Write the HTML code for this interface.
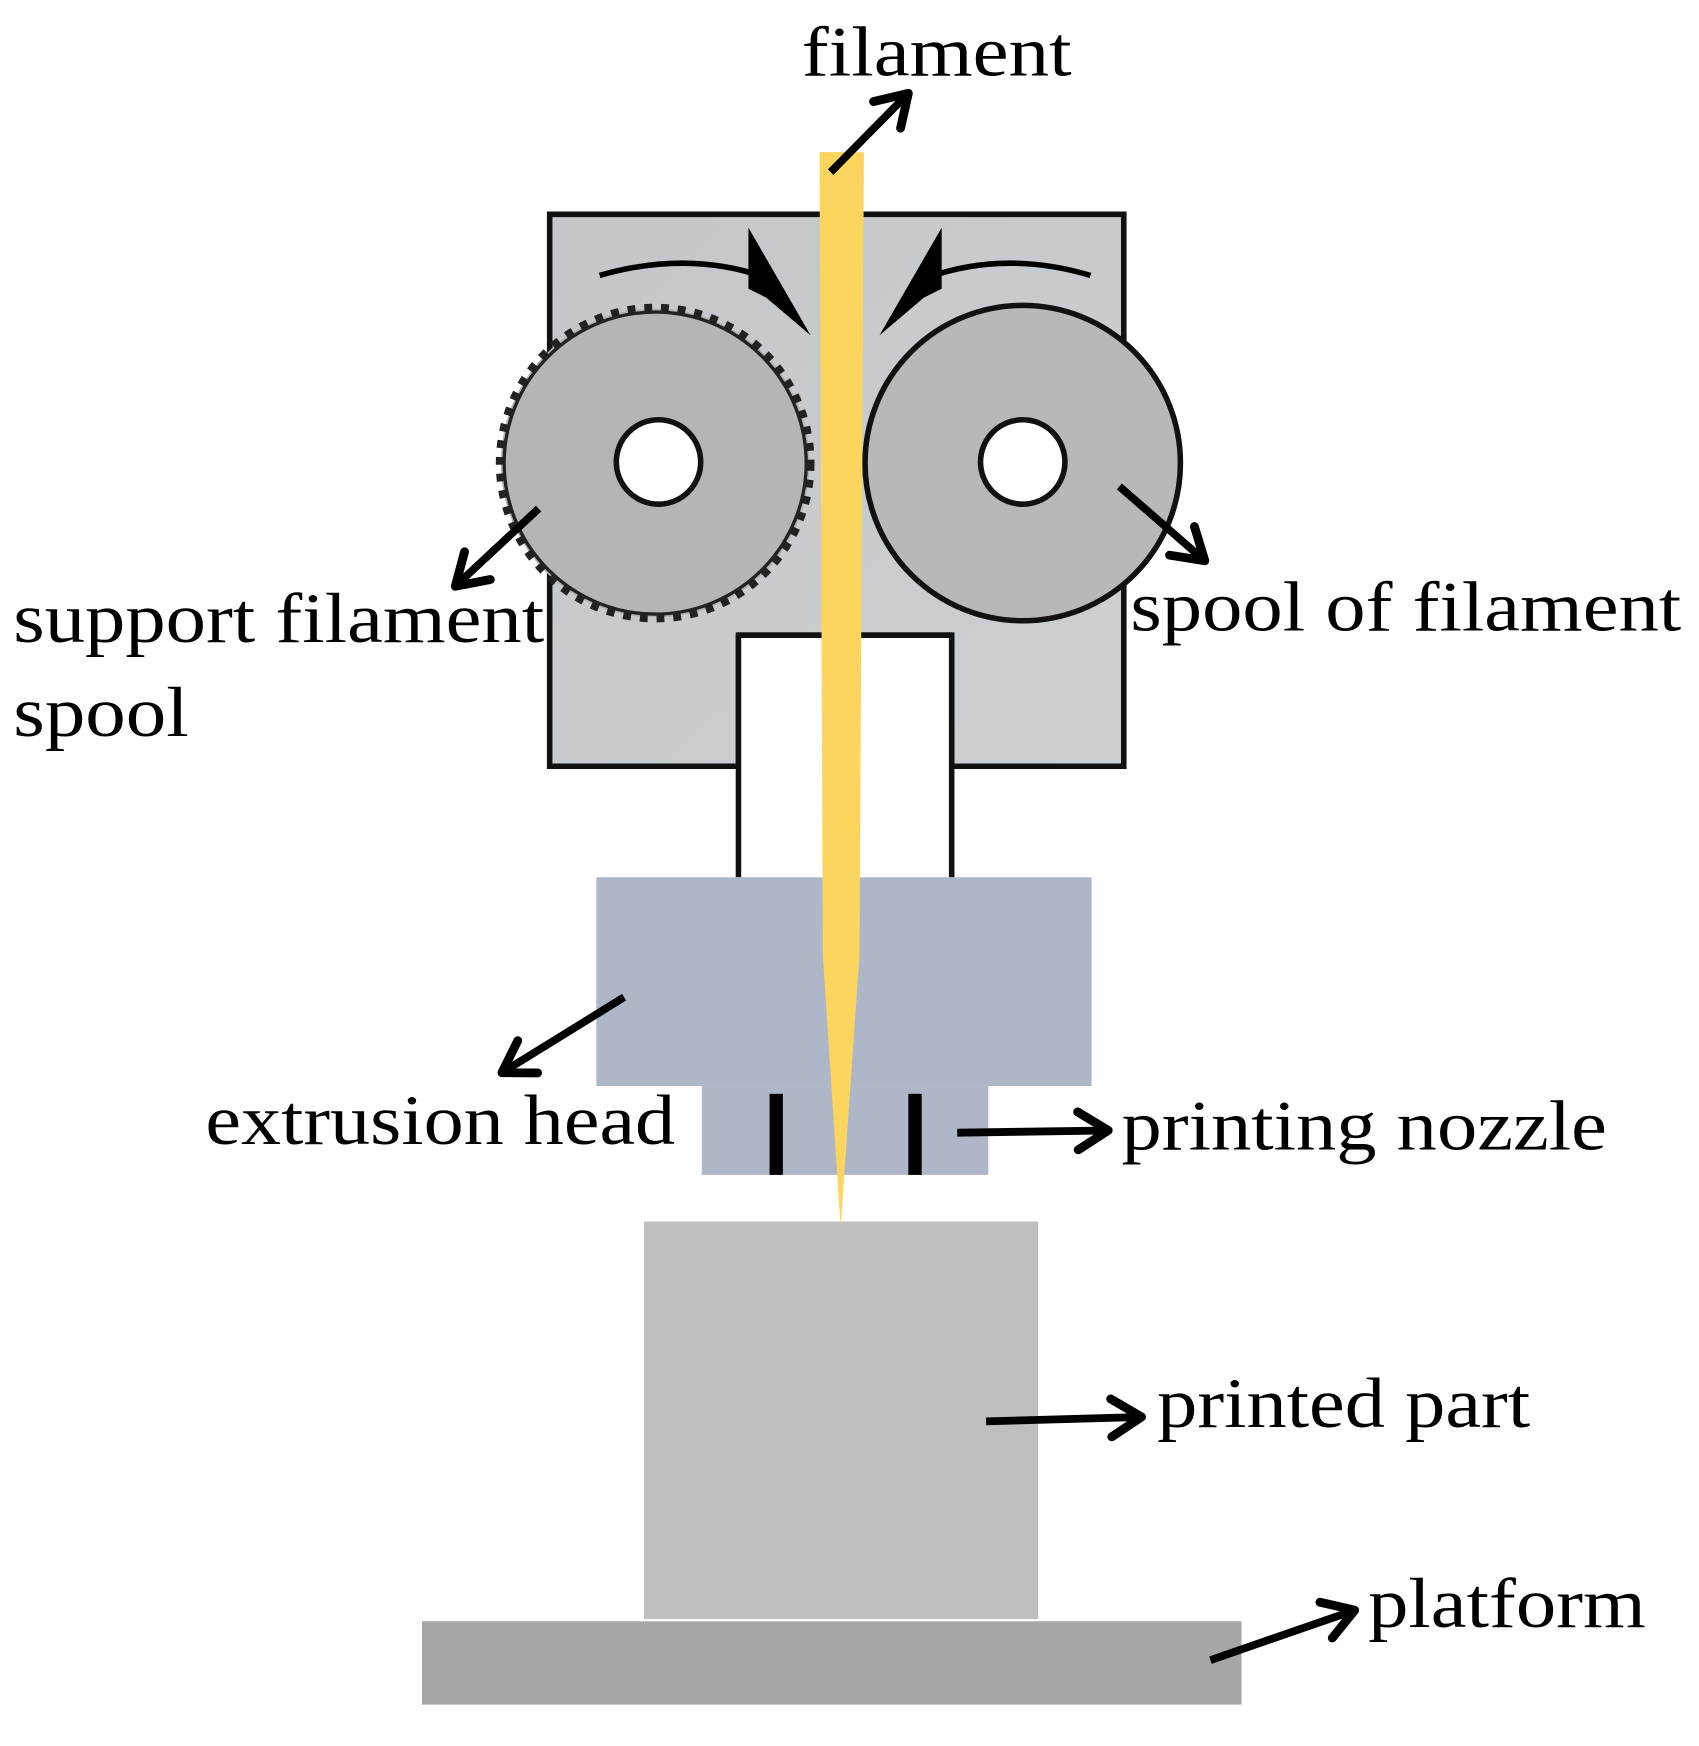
<!DOCTYPE html>
<html><head><meta charset="utf-8"><style>html,body{margin:0;padding:0;background:#fff}svg{display:block}
.t{font-family:"Liberation Serif","Times New Roman",serif;font-size:64px;fill:#000}</style></head>
<body>
<svg width="1699" height="1746" viewBox="0 0 1530 1572.3" xmlns="http://www.w3.org/2000/svg">
<defs>
<linearGradient id="bg" x1="0" y1="0" x2="1" y2="1"><stop offset="0" stop-color="#c4c6c9"/><stop offset="1" stop-color="#cdd0d2"/></linearGradient>
<marker id="ah" viewBox="0 0 20 20" refX="16" refY="10" markerWidth="6.5" markerHeight="6.5" orient="auto" markerUnits="strokeWidth">
<path d="M4,2.5 L16,10 L4,17.5" fill="none" stroke="#000" stroke-width="3.5" stroke-linecap="round" stroke-linejoin="round"/></marker>
</defs>
<path d="M495,193 H1012 V690 H857 V572 H665 V690 H495 Z" fill="url(#bg)" stroke="#111" stroke-width="5"/>
<rect x="665" y="572" width="192" height="218" fill="#fff"/>
<path d="M665,572 H857 M665,572 V790 M857,572 V790" stroke="#111" stroke-width="5" fill="none"/>
<path d="M540,248 Q620,225 690,250" fill="none" stroke="#000" stroke-width="5"/>
<path d="M674,205 L730,302 L690,268 L674,260 Z" fill="#000"/>
<path d="M982,248 Q905,225 835,250" fill="none" stroke="#000" stroke-width="5"/>
<path d="M848,205 L792,302 L832,268 L848,260 Z" fill="#000"/>
<circle cx="590" cy="417" r="139" fill="#b0b0b0" stroke="#222" stroke-width="9" stroke-dasharray="7 8"/>
<circle cx="590" cy="417" r="136" fill="#b5b5b5" stroke="#222" stroke-width="3"/>
<circle cx="593" cy="416" r="38" fill="#fff" stroke="#111" stroke-width="5"/>
<circle cx="921" cy="417" r="142" fill="#b8b8b8" stroke="#111" stroke-width="5"/>
<circle cx="921" cy="416" r="38" fill="#fff" stroke="#111" stroke-width="5"/>
<rect x="537" y="790" width="446" height="188" fill="#adb7c8"/>
<rect x="632" y="978" width="258" height="80" fill="#adb7c8"/>
<rect x="693" y="985" width="12" height="73" fill="#000"/>
<rect x="818" y="985" width="12" height="73" fill="#000"/>
<rect x="580" y="1100" width="355" height="358" fill="#bebebe"/>
<rect x="380" y="1460" width="738" height="75" fill="#a6a6a6"/>
<polygon points="738,137 778,137 774,860 757,1105 741,860" fill="#fcd55e"/>
<g stroke="#000" stroke-width="7" fill="none" marker-end="url(#ah)">
<line x1="748" y1="155" x2="818" y2="84"/>
<line x1="485" y1="458" x2="410" y2="528"/>
<line x1="1008" y1="438" x2="1085" y2="505"/>
<line x1="562" y1="898" x2="452" y2="966"/>
<line x1="862" y1="1020" x2="998" y2="1018"/>
<line x1="888" y1="1280" x2="1028" y2="1276"/>
<line x1="1090" y1="1495" x2="1220" y2="1450"/>
</g>
<text class="t" x="722" y="68" textLength="243" lengthAdjust="spacingAndGlyphs">filament</text>
<text class="t" x="12" y="578" textLength="478" lengthAdjust="spacingAndGlyphs">support filament</text>
<text class="t" x="12" y="663" textLength="158" lengthAdjust="spacingAndGlyphs">spool</text>
<text class="t" x="1018" y="568" textLength="496" lengthAdjust="spacingAndGlyphs">spool of filament</text>
<text class="t" x="185" y="1030" textLength="423" lengthAdjust="spacingAndGlyphs">extrusion head</text>
<text class="t" x="1010" y="1035" textLength="437" lengthAdjust="spacingAndGlyphs">printing nozzle</text>
<text class="t" x="1042" y="1285" textLength="336" lengthAdjust="spacingAndGlyphs">printed part</text>
<text class="t" x="1232" y="1465" textLength="250" lengthAdjust="spacingAndGlyphs">platform</text>
</svg>
</body></html>
